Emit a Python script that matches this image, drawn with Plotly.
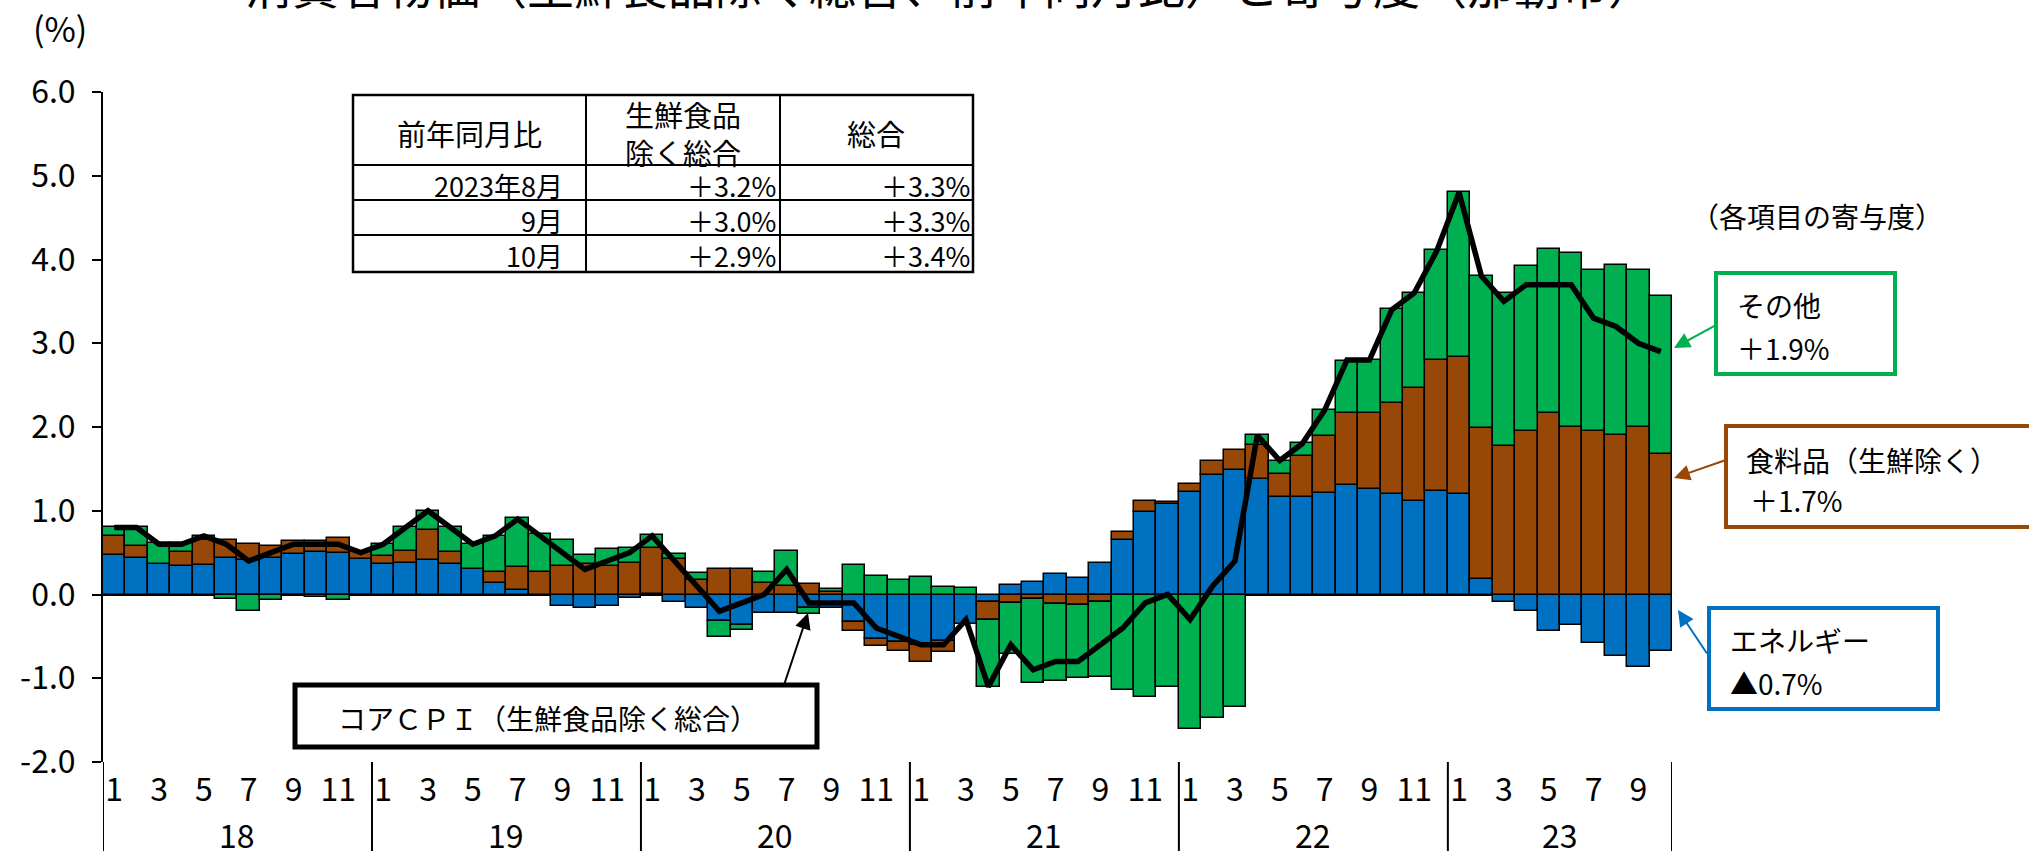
import plotly.graph_objects as go

# ---------------- data ----------------
years = ["18", "19", "20", "21", "22", "23"]
month_ticks = ["1", "3", "5", "7", "9", "11"]
y_tickvals = [-2, -1, 0, 1, 2, 3, 4, 5, 6]
y_ticktext = ["-2.0", "-1.0", "0.0", "1.0", "2.0", "3.0", "4.0", "5.0", "6.0"]

energy = [0.47, 0.43, 0.36, 0.34, 0.35, 0.43, 0.41, 0.44, 0.48, 0.51, 0.50, 0.42,
          0.36, 0.38, 0.41, 0.37, 0.30, 0.14, 0.05, -0.01, -0.14, -0.16, -0.14, -0.04,
          0.01, -0.09, -0.16, -0.32, -0.37, -0.22, -0.22, -0.16, -0.16, -0.33, -0.53, -0.57,
          -0.60, -0.55, -0.35, -0.09, 0.11, 0.15, 0.24, 0.20, 0.38, 0.65, 0.98, 1.08,
          1.22, 1.43, 1.49, 1.38, 1.17, 1.17, 1.21, 1.31, 1.26, 1.20, 1.12, 1.23,
          1.20, 0.18, -0.09, -0.20, -0.43, -0.37, -0.58, -0.73, -0.87, -0.67]
food = [0.23, 0.15, -0.02, 0.17, 0.30, 0.22, 0.19, 0.14, 0.16, 0.13, 0.18, 0.09,
        0.10, 0.14, 0.36, 0.14, 0.00, 0.13, 0.28, 0.27, 0.34, 0.37, 0.34, 0.38,
        0.55, 0.42, 0.17, 0.31, 0.31, 0.14, 0.10, 0.13, 0.03, -0.10, -0.08, -0.10,
        -0.21, -0.14, 0.00, -0.21, -0.10, -0.05, -0.11, -0.12, -0.09, 0.10, 0.14, 0.03,
        0.10, 0.16, 0.24, 0.41, 0.27, 0.48, 0.68, 0.86, 0.91, 1.09, 1.35, 1.57,
        1.64, 1.81, 1.77, 1.95, 2.17, 2.00, 1.95, 1.91, 2.00, 1.68]
other = [0.11, 0.23, 0.25, 0.10, 0.05, -0.05, -0.20, -0.07, -0.02, -0.03, -0.07, -0.02,
         0.14, 0.29, 0.23, 0.30, 0.30, 0.43, 0.58, 0.45, 0.31, 0.10, 0.20, 0.18,
         0.15, 0.06, 0.09, -0.19, -0.05, 0.13, 0.42, -0.07, 0.04, 0.35, 0.22, 0.17,
         0.21, 0.09, 0.08, -0.80, -0.61, -1.01, -0.92, -0.88, -0.89, -1.14, -1.22, -1.10,
         -1.61, -1.48, -1.34, 0.12, 0.15, 0.16, 0.31, 0.62, 0.63, 1.12, 1.13, 1.31,
         1.97, 1.81, 1.83, 1.97, 1.95, 2.08, 1.93, 2.03, 1.87, 1.89]
core = [0.8, 0.8, 0.6, 0.6, 0.7, 0.6, 0.4, 0.5, 0.6, 0.6, 0.6, 0.5,
        0.6, 0.8, 1.0, 0.8, 0.6, 0.7, 0.9, 0.7, 0.5, 0.3, 0.4, 0.5,
        0.7, 0.4, 0.1, -0.2, -0.1, 0.0, 0.3, -0.1, -0.1, -0.1, -0.4, -0.5,
        -0.6, -0.6, -0.3, -1.1, -0.6, -0.9, -0.8, -0.8, -0.6, -0.4, -0.1, 0.0,
        -0.3, 0.1, 0.4, 1.9, 1.6, 1.8, 2.2, 2.8, 2.8, 3.4, 3.6, 4.1,
        4.8, 3.8, 3.5, 3.7, 3.7, 3.7, 3.3, 3.2, 3.0, 2.9]

table_header = ["前年同月比", "生鮮食品<br>除く総合", "総合"]
table_rows = ["2023年8月", "9月", "10月"]
table_core = ["＋3.2%", "＋3.0%", "＋2.9%"]
table_total = ["＋3.3%", "＋3.3%", "＋3.4%"]

title_text = "消費者物価（生鮮食品除く総合、前年同月比）と寄与度（那覇市）"

# ---------------- layout geometry ----------------
W, H = 2029, 851
L, R, T, B = 103, 357, 92, 89
PW = W - L - R
PH = H - T - B

def px(X):
    return (X - L) / PW

def py(Y):
    return (H - B - Y) / PH

FJP = "Noto Sans CJK JP"
FNUM = "Noto Sans CJK JP"
BLUE = "#0070C0"
BROWN = "#974706"
GREEN = "#00B050"

n = len(core)
x = list(range(n))

fig = go.Figure()
for name, vals, col in [("エネルギー", energy, BLUE),
                        ("食料品（生鮮除く）", food, BROWN),
                        ("その他", other, GREEN)]:
    fig.add_trace(go.Bar(x=x, y=vals, name=name, width=1.0,
                         marker=dict(color=col, line=dict(color="black", width=1.5))))
fig.add_trace(go.Scatter(x=x, y=core, mode="lines", name="コアCPI",
                         line=dict(color="black", width=5.5)))

tickvals, ticktext = [], []
for k in range(len(years)):
    for m in month_ticks:
        i = 12 * k + int(m) - 1
        if i < n:
            tickvals.append(i)
            ticktext.append(m)

shapes = []
# year separators below axis
for b in [-0.5, 11.5, 23.5, 35.5, 47.5, 59.5, n - 0.5]:
    shapes.append(dict(type="line", xref="x", yref="paper", x0=b, x1=b,
                       y0=0, y1=py(H + 5), line=dict(color="black", width=2)))

def rect(x0, y0, x1, y1, col, w):
    shapes.append(dict(type="rect", xref="paper", yref="paper",
                       x0=px(x0), x1=px(x1), y0=py(y0), y1=py(y1),
                       line=dict(color=col, width=w), fillcolor="rgba(255,255,255,1)",
                       layer="above"))

def hline(x0, x1, y, w=2):
    shapes.append(dict(type="line", xref="paper", yref="paper", x0=px(x0), x1=px(x1),
                       y0=py(y), y1=py(y), line=dict(color="black", width=w)))

def vline(xx, y0, y1, w=2):
    shapes.append(dict(type="line", xref="paper", yref="paper", x0=px(xx), x1=px(xx),
                       y0=py(y0), y1=py(y1), line=dict(color="black", width=w)))

# table
rect(353, 95, 973, 272, "black", 2.5)
hline(353, 973, 165)
hline(353, 973, 200)
hline(353, 973, 235)
vline(586, 95, 272)
vline(780, 95, 272)

# legend boxes
rect(1716, 273, 1895, 374, GREEN, 4)
rect(1726, 426, 2045, 527, BROWN, 4)
rect(1709, 608, 1938, 709, BLUE, 4)
rect(295, 685, 817, 747, "black", 5)

ann = []

def text(X, Y, s, size=29, xanchor="center", font=FJP, yanchor="middle"):
    ann.append(dict(x=px(X), y=py(Y), xref="paper", yref="paper", text=s,
                    showarrow=False, xanchor=xanchor, yanchor=yanchor,
                    font=dict(family=font, size=size, color="black")))

def arrow(hx, hy, tx, ty, col):
    ann.append(dict(x=px(hx), y=py(hy), xref="paper", yref="paper", text="",
                    showarrow=True, ax=tx - hx, ay=ty - hy, arrowhead=2,
                    arrowsize=1.6, arrowwidth=2, arrowcolor=col, standoff=0))

# title (cut off at top)
text(950, 20, title_text, size=47, yanchor="bottom")
text(60, 27, "(%)", size=34)

# table texts
text(469, 133, table_header[0], 29)
text(683, 133, table_header[1], 29)
text(876, 133, table_header[2], 29)
row_y = [185, 220, 255]
for r in range(3):
    text(565, row_y[r], table_rows[r], 27, xanchor="right")
    text(778, row_y[r], table_core[r], 27, xanchor="right")
    text(972, row_y[r], table_total[r], 27, xanchor="right")

# legend texts
text(1817, 216, "（各項目の寄与度）", 28)
text(1735, 305, "その他", 28, xanchor="left")
text(1735, 348, "＋1.9%", 28, xanchor="left")
text(1744, 460, "食料品（生鮮除く）", 28, xanchor="left")
text(1748, 500, "＋1.7%", 28, xanchor="left")
text(1728, 640, "エネルギー", 28, xanchor="left")
text(1728, 683, "▲0.7%", 28, xanchor="left")
text(336, 718, "コアＣＰＩ（生鮮食品除く総合）", 28, xanchor="left")

arrow(1674, 348, 1716, 325, GREEN)
arrow(1674, 478, 1726, 460, BROWN)
arrow(1678, 610, 1708, 655, BLUE)
arrow(808, 613, 784, 685, "black")

# year labels
for k, yr in enumerate(years):
    start = 12 * k - 0.5
    end = min(12 * k + 11.5, n - 0.5)
    ann.append(dict(x=(start + end) / 2, y=py(834), xref="x", yref="paper", text=yr,
                    showarrow=False, xanchor="center", yanchor="middle",
                    font=dict(family=FNUM, size=32, color="black")))

fig.update_layout(
    width=W, height=H,
    margin=dict(l=L, r=R, t=T, b=B),
    paper_bgcolor="white", plot_bgcolor="white",
    barmode="relative", bargap=0,
    showlegend=False,
    shapes=shapes, annotations=ann,
    xaxis=dict(range=[-0.5, n - 0.5], tickvals=tickvals, ticktext=ticktext,
               showgrid=False, zeroline=False, showline=False, ticks="",
               tickfont=dict(family=FNUM, size=32, color="black"),
               ticklabelstandoff=6, automargin=False),
    yaxis=dict(range=[-2, 6], tickvals=y_tickvals, ticktext=y_ticktext,
               showgrid=False, zeroline=True, zerolinecolor="black", zerolinewidth=2,
               showline=True, linecolor="black", linewidth=2,
               ticks="outside", ticklen=9, tickwidth=2, tickcolor="black",
               tickfont=dict(family=FNUM, size=32, color="black"),
               ticklabelstandoff=10, automargin=False),
)

fig.write_html("out.html", config={"displayModeBar": False},
               post_script="document.body.style.margin='0';document.body.style.overflow='hidden';")
